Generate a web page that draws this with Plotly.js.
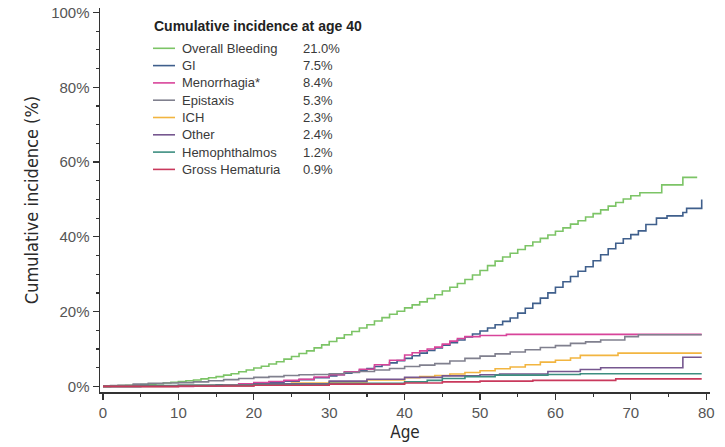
<!DOCTYPE html>
<html>
<head>
<meta charset="utf-8">
<script src="https://cdn.plot.ly/plotly-3.0.1.min.js"></script>
<style>html,body{margin:0;padding:0;background:#fff;}#chart{width:725px;height:447px;}</style>
</head>
<body>
<div id="chart"></div>
<script>
// ---- Data ----
var seriesNames = ["Overall Bleeding", "GI", "Menorrhagia*", "Epistaxis", "ICH", "Other", "Hemophthalmos", "Gross Hematuria"];
var incidenceAt40 = ["21.0%", "7.5%", "8.4%", "5.3%", "2.3%", "2.4%", "1.2%", "0.9%"];
var seriesColors = ["#7cc466", "#3f5f8c", "#d8449a", "#80808e", "#f2b540", "#76578f", "#3d8e80", "#c9395c"];

var overallAge = [0,1,2,3,4,5,6,7,8,9,10,11,12,13,14,15,16,17,18,19,20,21,22,23,24,25,26,27,28,29,30,31,32,33,34,35,36,37,38,39,40,41,42,43,44,45,46,47,48,49,50,51,52,53,54,55,56,57,58,59,60,61,62,63,64,65,66,67,68,69,70,71.2,74.1,76.9,78.8];
var overallPct = [0,0.1,0.2,0.3,0.4,0.5,0.6,0.7,0.9,1.1,1.3,1.5,1.7,2.0,2.3,2.6,3.0,3.4,3.9,4.4,4.9,5.4,6.0,6.6,7.3,8.0,8.8,9.5,10.3,11.1,12.0,12.9,13.8,14.7,15.6,16.5,17.5,18.4,19.3,20.1,21.0,21.8,22.6,23.5,24.5,25.5,26.5,27.5,28.6,29.8,31.0,32.3,33.5,34.6,35.6,36.6,37.6,38.6,39.6,40.5,41.5,42.4,43.4,44.3,45.3,46.2,47.2,48.2,49.2,50.1,51.0,51.8,53.9,55.9,55.9];

var giAge = [0,5,10,15,18,20,22,24,26,28,30,31,32,33,34,35,36,37,38,39,40,41,42,43,44,45,46,47,48,49,50,51,52,53,54,55,56,57,58,59,60,61,62,63,64,65,66,67,68,69,70,71,72,73.4,74.8,76.9,77.4,79.4];
var giPct = [0,0.1,0.2,0.4,0.6,0.8,1.1,1.4,1.8,2.3,2.8,3.1,3.5,3.9,4.3,4.8,5.3,5.8,6.3,6.9,7.5,8.2,8.9,9.6,10.3,11.0,11.7,12.4,13.2,14.0,14.8,15.6,16.5,17.4,18.3,19.6,20.9,22.2,23.6,25.0,26.5,28.0,29.4,30.8,32.0,33.6,35.2,36.8,38.3,39.5,40.6,41.6,43.3,45.0,45.6,46.5,47.6,50.0];

var menoAge = [0,12,14,16,18,20,22,24,26,28,30,32,34,36,38,40,41,42,43,44,45,46,47,48,50,53.5,79.4];
var menoPct = [0,0.1,0.2,0.4,0.7,1.0,1.3,1.6,1.9,2.5,3.1,3.9,4.6,5.8,7.0,8.4,9.0,9.5,10.0,10.5,11.3,12.1,12.8,13.3,13.6,13.9,13.9];

var epiAge = [0,1,2,4,6,8,10,12,14,16,18,20,22,24,26,28,30,32,34,36,38,40,42,44,46,48,50,52,54,56,58,60,62,64,66,69.2,71,79.4];
var epiPct = [0,0.2,0.3,0.6,0.8,0.9,1.0,1.2,1.5,1.8,2.1,2.4,2.6,2.9,3.1,3.2,3.4,3.7,4.0,4.4,4.8,5.3,5.7,6.1,6.8,7.5,8.1,8.7,9.2,9.8,10.4,10.9,11.5,11.9,12.4,13.3,13.8,13.8];

var ichAge = [0,10,20,25,30,35,40,42,44,46,48,50,52,54,56,58,60,62,63.3,68.3,79.4];
var ichPct = [0,0.2,0.6,0.9,1.2,1.7,2.3,2.6,2.9,3.3,3.7,4.2,4.7,5.2,5.8,6.5,7.0,7.6,8.3,8.9,8.9];

var otherAge = [0,10,20,30,35,40,45,50,52.6,59,63.3,66,76.9,79.4];
var otherPct = [0,0.2,0.7,1.4,1.9,2.4,2.8,3.1,3.3,4.0,4.5,5.0,7.8,7.8];

var hemoAge = [0,5,10,20,30,40,43,45,48,52,59,63.3,79.4];
var hemoPct = [0,0.2,0.3,0.5,0.8,1.2,1.6,2.1,2.6,3.0,3.2,3.4,3.4];

var hemaAge = [0,10,20,30,40,45,50,57,68,79.4];
var hemaPct = [0,0.1,0.3,0.6,0.9,1.2,1.4,1.6,2.0,2.0];

var xTicks = [0,10,20,30,40,50,60,70,80];
var yTicks = [0,20,40,60,80,100];
var yTickLabels = ["0%", "20%", "40%", "60%", "80%", "100%"];

var seriesAges = [overallAge, giAge, menoAge, epiAge, ichAge, otherAge, hemoAge, hemaAge];
var seriesPcts = [overallPct, giPct, menoPct, epiPct, ichPct, otherPct, hemoPct, hemaPct];

// ---- Traces ----
var traces = [];
for (var i = 0; i < seriesNames.length; i++) {
  traces.push({
    x: seriesAges[i], y: seriesPcts[i], name: seriesNames[i],
    type: 'scatter', mode: 'lines',
    line: {shape: 'hv', color: seriesColors[i], width: 1.6},
    showlegend: false, hoverinfo: 'skip'
  });
}

// ---- Legend built as annotations ----
var L = 100, W = 610, T = 8, H = 384; // plot area in px
function px2x(px){ return (px - L) / W; }
function py2y(py){ return (T + H - py) / H; }

var annotations = [{
  xref: 'paper', yref: 'paper', x: px2x(152), y: py2y(26),
  xanchor: 'left', yanchor: 'middle', showarrow: false,
  text: '<b>Cumulative incidence at age 40</b>',
  font: {family: 'Liberation Sans, Arial, sans-serif', size: 14, color: '#222'}
}];
var shapes = [];
for (var j = 0; j < seriesNames.length; j++) {
  var rowY = 48.3 + 17.3 * j;
  shapes.push({type: 'line', xref: 'paper', yref: 'paper',
    x0: px2x(153), x1: px2x(175), y0: py2y(rowY), y1: py2y(rowY),
    line: {color: seriesColors[j], width: 1.6}});
  annotations.push({xref: 'paper', yref: 'paper', x: px2x(180), y: py2y(rowY),
    xanchor: 'left', yanchor: 'middle', showarrow: false, text: seriesNames[j],
    font: {family: 'Liberation Sans, Arial, sans-serif', size: 13, color: '#3a3a3a'}});
  annotations.push({xref: 'paper', yref: 'paper', x: px2x(301), y: py2y(rowY),
    xanchor: 'left', yanchor: 'middle', showarrow: false, text: incidenceAt40[j],
    font: {family: 'Liberation Sans, Arial, sans-serif', size: 13, color: '#3a3a3a'}});
}

var titleFont = {family: 'Liberation Sans Narrow, Arial Narrow, DejaVu Sans Condensed, Liberation Sans, sans-serif', size: 17, color: '#2a2a2a'};
var tickFont = {family: 'Liberation Sans, Arial, sans-serif', size: 15, color: '#555'};

var layout = {
  width: 725, height: 447,
  margin: {l: L, r: 725 - L - W, t: T, b: 447 - T - H},
  paper_bgcolor: '#fff', plot_bgcolor: '#fff',
  showlegend: false,
  xaxis: {
    range: [-0.4, 80.5], tickmode: 'array', tickvals: xTicks, ticks: 'outside', ticklen: 6, tickwidth: 1.2, tickcolor: '#333',
    showline: true, linecolor: '#333', linewidth: 1.5, showgrid: false, zeroline: false,
    tickfont: tickFont,
    minor: {dtick: 5, tick0: 0, ticks: 'outside', ticklen: 3, tickcolor: '#333', showgrid: false},
    title: {text: 'Age', font: titleFont, standoff: 6}
  },
  yaxis: {
    range: [-1.5, 101.2], tickmode: 'array', tickvals: yTicks, ticktext: yTickLabels, ticks: 'outside', ticklen: 6, tickwidth: 1.2, tickcolor: '#333',
    showline: true, linecolor: '#333', linewidth: 1.5, showgrid: false, zeroline: false,
    tickfont: tickFont,
    minor: {dtick: 5, tick0: 0, ticks: 'outside', ticklen: 3, tickcolor: '#333', showgrid: false},
    title: {text: 'Cumulative incidence (%)', font: {family: titleFont.family, size: 18, color: '#2a2a2a'}, standoff: 8}
  },
  annotations: annotations,
  shapes: shapes
};

Plotly.newPlot('chart', traces, layout, {staticPlot: true, displayModeBar: false});
</script>
</body>
</html>
